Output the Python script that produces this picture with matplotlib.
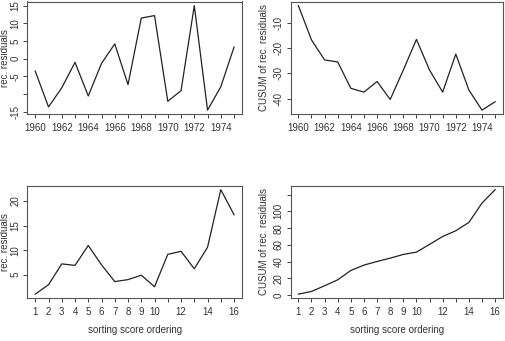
import numpy as np
import matplotlib
matplotlib.use("Agg")
import matplotlib.pyplot as plt

plt.rcParams['font.family'] = ['Liberation Sans', 'DejaVu Sans']

years = list(range(1960, 1976))
rec_resid_time = [-3.5, -13.6, -8.2, -1.0, -10.5, -1.3, 4.2, -7.3, 11.5, 12.2,
                  -12.0, -9.0, 15.0, -14.5, -7.9, 3.3]
cusum_time = [-3.3, -16.8, -24.7, -25.5, -35.9, -37.4, -33.2, -40.3, -28.7, -16.6,
              -28.7, -37.4, -22.4, -36.6, -44.5, -41.2]

order = list(range(1, 17))
rec_resid_sort = [1.05, 2.96, 7.2, 6.9, 10.95, 7.0, 3.6, 4.0, 4.9, 2.55,
                  9.15, 9.76, 6.2, 10.6, 22.3, 17.2]
cusum_sort = [1.2, 4.4, 11.2, 18.3, 29.5, 35.9, 40.2, 44.2, 48.6, 51.4,
              60.6, 70.1, 76.9, 86.9, 110.0, 126.0]

top_xticks = list(range(1960, 1976))
top_xlabels = [str(y) if (y - 1960) % 2 == 0 and y != 1975 else '' for y in top_xticks]
bot_xticks = list(range(1, 17))
bot_xlabels = [str(i) if (i <= 10 or i % 2 == 0) else '' for i in bot_xticks]

W, H = 506, 341
fig = plt.figure(figsize=(W / 100, H / 100), dpi=100)

def box(l, r, t, b):
    return [l / W, 1 - b / H, (r - l) / W, (b - t) / H]

FS = 7
LC = '#222222'

def style(ax, x, y, xticks, xlabels, yticks, ylabels, ylabel, xlabel=None, ylpad=3):
    ax.plot(x, y, color=LC, lw=0.9)
    xr = max(x) - min(x)
    ax.set_xlim(min(x) - 0.04 * xr, max(x) + 0.04 * xr)
    yr = max(y) - min(y)
    ax.set_ylim(min(y) - 0.04 * yr, max(y) + 0.04 * yr)
    ax.set_xticks(xticks)
    ax.set_xticklabels(xlabels, fontsize=FS, color='#333333')
    ax.set_yticks(yticks)
    ax.set_yticklabels(ylabels, fontsize=FS, rotation=90, va='center', color='#333333')
    ax.tick_params(axis='x', direction='out', length=3, width=0.7, pad=3, color='#444444')
    ax.tick_params(axis='y', direction='out', length=3, width=0.7, pad=2, color='#444444')
    for s in ax.spines.values():
        s.set_linewidth(0.8)
        s.set_color('#555555')
    ax.set_ylabel(ylabel, fontsize=FS, labelpad=ylpad, color='#333333')
    if xlabel:
        ax.set_xlabel(xlabel, fontsize=FS, labelpad=6, color='#333333')

ax1 = fig.add_axes(box(27.3, 242.0, 1.5, 114.3))
style(ax1, years, rec_resid_time, top_xticks, top_xlabels,
      [-15, -10, -5, 0, 5, 10, 15], ['-15', '', '-5', '0', '5', '10', '15'],
      'rec. residuals', ylpad=0.5)

ax2 = fig.add_axes(box(290.5, 503.0, 1.5, 114.3))
style(ax2, years, cusum_time, top_xticks, top_xlabels,
      [-40, -30, -20, -10], ['-40', '-30', '-20', '-10'],
      'CUSUM of rec. residuals')

ax3 = fig.add_axes(box(27.3, 242.0, 185.5, 298.3))
style(ax3, order, rec_resid_sort, bot_xticks, bot_xlabels,
      [5, 10, 15, 20], ['5', '10', '15', '20'],
      'rec. residuals', 'sorting score ordering', ylpad=0.5)

ax4 = fig.add_axes(box(290.5, 503.0, 185.5, 298.3))
style(ax4, order, cusum_sort, bot_xticks, bot_xlabels,
      [0, 20, 40, 60, 80, 100, 120], ['0', '20', '40', '60', '80', '100', ''],
      'CUSUM of rec. residuals', 'sorting score ordering')

fig.savefig('out.png', dpi=100)
